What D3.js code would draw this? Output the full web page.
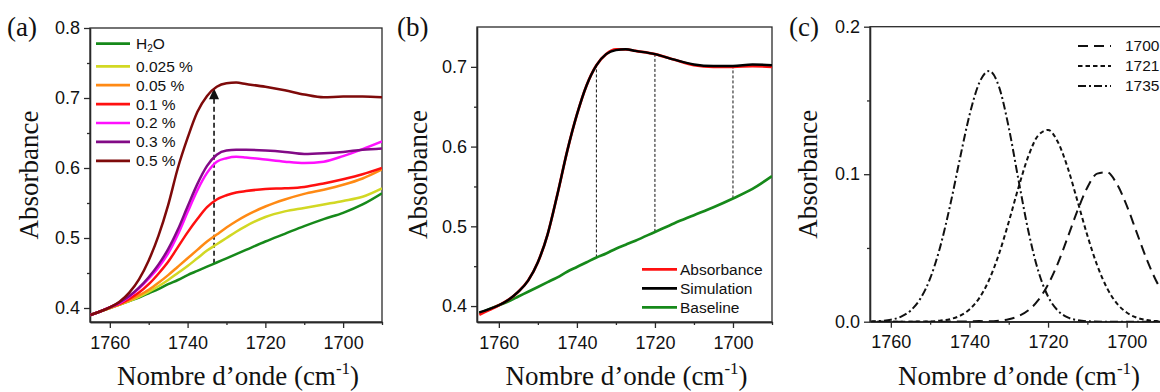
<!DOCTYPE html>
<html><head><meta charset="utf-8">
<script src="https://cdn.jsdelivr.net/npm/d3@7/dist/d3.min.js"></script>
<style>body{margin:0;background:#fff;overflow:hidden}</style>
</head><body>
<svg id="chart" width="1160" height="392"></svg>
<script>
// ---------- DATA ----------
const wavenumbers = [1765,1762.5,1760,1757.5,1755,1752.5,1750,1747.5,1745,1742.5,1740,1737.5,1735,1732.5,1730,1727.5,1725,1720,1715,1710,1705,1700,1695,1690];

// panel (a)
const seriesALabels = ["H2O","0.025 %","0.05 %","0.1 %","0.2 %","0.3 %","0.5 %"];
const aH2O  = [0.390,0.395,0.400,0.405,0.410,0.415,0.421,0.427,0.434,0.440,0.447,0.453,0.459,0.465,0.471,0.477,0.483,0.495,0.506,0.517,0.527,0.536,0.548,0.564];
const a0025 = [0.390,0.395,0.400,0.405,0.410,0.416,0.423,0.431,0.440,0.450,0.460,0.471,0.482,0.491,0.500,0.509,0.517,0.530,0.538,0.543,0.548,0.553,0.559,0.571];
const a005  = [0.390,0.395,0.400,0.405,0.411,0.418,0.426,0.436,0.447,0.459,0.471,0.483,0.495,0.505,0.515,0.524,0.532,0.545,0.555,0.563,0.569,0.576,0.585,0.598];
const a01   = [0.390,0.395,0.401,0.406,0.413,0.422,0.434,0.449,0.466,0.487,0.508,0.527,0.544,0.555,0.561,0.565,0.567,0.570,0.571,0.573,0.578,0.584,0.591,0.600];
const a02   = [0.390,0.395,0.401,0.407,0.416,0.428,0.442,0.458,0.478,0.505,0.537,0.568,0.593,0.609,0.614,0.616,0.615,0.612,0.609,0.607,0.609,0.617,0.627,0.638];
const a03   = [0.390,0.395,0.401,0.408,0.417,0.429,0.444,0.462,0.484,0.512,0.545,0.577,0.603,0.619,0.625,0.626,0.626,0.625,0.623,0.620,0.621,0.623,0.626,0.628];
const a05   = [0.390,0.395,0.401,0.409,0.422,0.441,0.468,0.503,0.547,0.600,0.643,0.680,0.703,0.716,0.721,0.722,0.720,0.716,0.711,0.705,0.701,0.702,0.702,0.701];
const arrowWavenumber = 1733.2;

// panel (b)
const seriesBLabels = ["Absorbance","Simulation","Baseline"];
const bAbsorbance = [0.389,0.395,0.401,0.408,0.418,0.432,0.455,0.490,0.540,0.594,0.640,0.677,0.702,0.716,0.722,0.722,0.720,0.716,0.709,0.702,0.700,0.700,0.701,0.700];
const bSimulation = [0.392,0.396,0.401,0.408,0.418,0.432,0.455,0.490,0.540,0.594,0.640,0.677,0.702,0.716,0.721,0.722,0.720,0.716,0.709,0.703,0.701,0.701,0.703,0.702];
const bBaseline   = [0.391,0.396,0.401,0.406,0.412,0.418,0.424,0.430,0.436,0.443,0.449,0.455,0.461,0.466,0.472,0.477,0.482,0.493,0.504,0.514,0.524,0.535,0.547,0.563];
const bMarkers = [1735, 1720, 1700];

// panel (c)
const seriesCLabels = ["1700","1721","1735"];
const c1700 = [0,0,0,0,0,0,0,0,0.0001,0.0001,0.0002,0.0004,0.0003,0.0007,0.0017,0.0038,0.0077,0.0252,0.0572,0.0910,0.1013,0.0789,0.0430,0.0164];
const c1721 = [0,0,0,0,0,0.0001,0.0002,0.0007,0.0017,0.0039,0.0083,0.0160,0.0283,0.0458,0.0676,0.0912,0.1123,0.1300,0.1044,0.0585,0.0228,0.0062,0.0012,0.0002];
const c1735 = [0.0002,0.0005,0.0013,0.0033,0.0075,0.0155,0.0293,0.0502,0.0778,0.1096,0.1399,0.1619,0.1700,0.1595,0.1317,0.0958,0.0613,0.0171,0.0029,0.0003,0,0,0,0];
// finer points between 1725 and 1690
const c1721Fine = [[1722.5,0.1263],[1717.5,0.1218],[1712.5,0.0817],[1707.5,0.0382],[1702.5,0.0124],[1697.5,0.0028],[1692.5,0.0004]];
const c1700Fine = [[1722.5,0.0146],[1717.5,0.0396],[1712.5,0.0754],[1707.5,0.1004],[1702.5,0.0934],[1697.5,0.0609],[1692.5,0.0278]];
const c1735Fine = [[1722.5,0.0345],[1717.5,0.0075],[1712.5,0.0010]];

const xMajorTicks = [1760,1740,1720,1700];
const xMinorTicks = [1750,1730,1710,1690];

// ---------- DRAW ----------
const svg = d3.select("#chart");
const SANS = "'Liberation Sans', Arial, sans-serif";
const SERIF = "'Liberation Serif', 'Times New Roman', serif";
const AX = "#2a2a2a";

function panel(o) {
  const g = svg.append("g").attr("transform", `translate(${o.left},${o.top})`);
  const x = d3.scaleLinear().domain(o.xDom).range([0, o.w]);
  const y = d3.scaleLinear().domain(o.yDom).range([o.h, 0]);
  const clipId = "clip" + o.id;
  svg.append("clipPath").attr("id", clipId).append("rect")
     .attr("x", o.left).attr("y", o.top).attr("width", o.w).attr("height", o.h);
  const styleAxis = sel => {
    sel.attr("font-family", SANS).attr("font-size", 18);
    sel.selectAll("path,line").attr("stroke", AX).attr("stroke-width", 1.3);
    sel.selectAll("text").attr("fill", "#111");
  };
  g.append("g").attr("transform", `translate(0,${o.h})`)
    .call(d3.axisBottom(x).tickValues(xMajorTicks).tickSize(6).tickSizeOuter(0).tickPadding(8).tickFormat(d3.format("d")))
    .call(styleAxis);
  g.append("g").attr("transform", `translate(0,${o.h})`)
    .call(d3.axisBottom(x).tickValues(xMinorTicks).tickSize(3).tickSizeOuter(0).tickFormat(""))
    .call(styleAxis);
  g.append("g")
    .call(d3.axisLeft(y).tickValues(o.yMajor).tickSize(6).tickSizeOuter(0).tickPadding(4).tickFormat(d3.format(".1f")))
    .call(styleAxis);
  g.append("g")
    .call(d3.axisLeft(y).tickValues(o.yMinor).tickSize(3).tickSizeOuter(0).tickFormat(""))
    .call(styleAxis);
  g.append("rect").attr("width", o.w).attr("height", o.h)
    .attr("fill", "none").attr("stroke", AX).attr("stroke-width", 1.3);
  const plot = svg.append("g").attr("clip-path", `url(#${clipId})`)
    .append("g").attr("transform", `translate(${o.left},${o.top})`);
  // titles
  const xt = g.append("text").attr("x", o.w / 2 + 2).attr("y", 385 - o.top)
    .attr("text-anchor", "middle").attr("font-family", SERIF).attr("font-size", 27).attr("fill", "#111");
  xt.append("tspan").text("Nombre d\u2019onde (cm");
  xt.append("tspan").attr("font-size", 17).attr("dy", -11).text("-1");
  xt.append("tspan").attr("dy", 11).text(")");
  svg.append("text").attr("transform", `translate(${o.titleX},${o.top + o.h / 2}) rotate(-90)`)
    .attr("text-anchor", "middle").attr("font-family", SERIF).attr("font-size", 27).attr("fill", "#111")
    .text("Absorbance");
  svg.append("text").attr("x", o.labelX).attr("y", 36)
    .attr("font-family", SERIF).attr("font-size", 27).attr("fill", "#111").text(o.label);
  return { g, plot, x, y };
}

const zip = (xs, ys) => xs.map((v, i) => [v, ys[i]]);
function interp(xs, ys, v) {
  for (let i = 0; i < xs.length - 1; i++) {
    const a = xs[i], b = xs[i + 1];
    if ((v <= a && v >= b)) return ys[i] + (ys[i + 1] - ys[i]) * (a - v) / (a - b);
  }
  return ys[ys.length - 1];
}

// ----- panel (a)
const A = panel({ id: "a", left: 90, top: 28, w: 292, h: 294, xDom: [1765.1, 1690], yDom: [0.38, 0.80],
  yMajor: [0.4, 0.5, 0.6, 0.7, 0.8], yMinor: [0.45, 0.55, 0.65, 0.75], titleX: 38, labelX: 7, label: "(a)" });
const colorsA = ["#16891a", "#d2d824", "#ff8a14", "#ff1010", "#ff10ff", "#820a86", "#7e0a0a"];
const dataA = [aH2O, a0025, a005, a01, a02, a03, a05];
const lineA = d3.line().x(d => A.x(d[0])).y(d => A.y(d[1])).curve(d3.curveMonotoneX);
// arrow (drawn below curves)
const yArrowBottom = interp(wavenumbers, aH2O, arrowWavenumber);
const yArrowTop = interp(wavenumbers, a05, arrowWavenumber);
const ax = A.x(arrowWavenumber);
A.plot.append("line").attr("x1", ax).attr("x2", ax)
  .attr("y1", A.y(yArrowBottom)).attr("y2", A.y(yArrowTop) + 9)
  .attr("stroke", "#111").attr("stroke-width", 1.6).attr("stroke-dasharray", "5,3");
const tipY = A.y(yArrowTop) - 1;
A.plot.append("path").attr("d", `M${ax},${tipY} L${ax - 5},${tipY + 11} L${ax + 5},${tipY + 11} Z`).attr("fill", "#111");
dataA.forEach((s, i) => {
  A.plot.append("path").attr("d", lineA(zip(wavenumbers, s).reverse())).attr("fill", "none")
    .attr("stroke", colorsA[i]).attr("stroke-width", 2.5);
});
// legend (a)
const legA = svg.append("g");
seriesALabels.forEach((lab, i) => {
  const yy = i === 0 ? 43.7 : 66.3 + (i - 1) * 18.9;
  legA.append("line").attr("x1", 96).attr("x2", 130).attr("y1", yy).attr("y2", yy)
    .attr("stroke", colorsA[i]).attr("stroke-width", 2.7);
  const t = legA.append("text").attr("x", 136).attr("y", yy + 5.4)
    .attr("font-family", SANS).attr("font-size", 15.5).attr("fill", "#111");
  if (lab === "H2O") {
    t.append("tspan").text("H");
    t.append("tspan").attr("font-size", 10).attr("dy", 3).text("2");
    t.append("tspan").attr("dy", -3).text("O");
  } else t.text(lab);
});

// ----- panel (b)
const B = panel({ id: "b", left: 477, top: 27, w: 295, h: 295, xDom: [1765.6, 1690], yDom: [0.38, 0.75],
  yMajor: [0.4, 0.5, 0.6, 0.7], yMinor: [0.45, 0.55, 0.65], titleX: 427, labelX: 397, label: "(b)" });
const colorsB = ["#ff1010", "#000000", "#16891a"];
const dataB = [bAbsorbance, bSimulation, bBaseline];
const lineB = d3.line().x(d => B.x(d[0])).y(d => B.y(d[1])).curve(d3.curveMonotoneX);
bMarkers.forEach(m => {
  B.plot.append("line").attr("x1", B.x(m)).attr("x2", B.x(m))
    .attr("y1", B.y(interp(wavenumbers, bBaseline, m))).attr("y2", B.y(interp(wavenumbers, bSimulation, m)))
    .attr("stroke", "#111").attr("stroke-width", 1).attr("stroke-dasharray", "3,2");
});
[2, 0, 1].forEach(i => {
  B.plot.append("path").attr("d", lineB(zip(wavenumbers, dataB[i]).reverse())).attr("fill", "none")
    .attr("stroke", colorsB[i]).attr("stroke-width", i === 1 ? 2.4 : 2.7);
});
const legB = svg.append("g");
seriesBLabels.forEach((lab, i) => {
  const yy = 269.3 + i * 19;
  legB.append("line").attr("x1", 642).attr("x2", 677).attr("y1", yy).attr("y2", yy)
    .attr("stroke", colorsB[i]).attr("stroke-width", 2.7);
  legB.append("text").attr("x", 680).attr("y", yy + 5.4)
    .attr("font-family", SANS).attr("font-size", 15.5).attr("fill", "#111").text(lab);
});

// ----- panel (c)
const C = panel({ id: "c", left: 870, top: 26.7, w: 294, h: 295, xDom: [1765.3, 1690.5], yDom: [0, 0.2],
  yMajor: [0.0, 0.1, 0.2], yMinor: [0.05, 0.15], titleX: 817, labelX: 789, label: "(c)" });
const dashC = ["10,6", "4.5,3", "8,3,2,3"];
const mergeFine = (base, fine) => zip(wavenumbers, base).concat(fine).sort((p, q) => p[0] - q[0]);
const dataC = [mergeFine(c1700, c1700Fine), mergeFine(c1721, c1721Fine), mergeFine(c1735, c1735Fine)];
const lineC = d3.line().x(d => C.x(d[0])).y(d => C.y(d[1])).curve(d3.curveMonotoneX);
dataC.forEach((s, i) => {
  C.plot.append("path").attr("d", lineC(s)).attr("fill", "none")
    .attr("stroke", "#111").attr("stroke-width", 2).attr("stroke-dasharray", dashC[i]);
});
const legC = svg.append("g");
seriesCLabels.forEach((lab, i) => {
  const yy = 46 + i * 20;
  legC.append("line").attr("x1", 1078).attr("x2", 1111).attr("y1", yy).attr("y2", yy)
    .attr("stroke", "#111").attr("stroke-width", 2).attr("stroke-dasharray", dashC[i]);
  legC.append("text").attr("x", 1125).attr("y", yy + 5.4)
    .attr("font-family", SANS).attr("font-size", 15.5).attr("fill", "#111").text(lab);
});
</script>
</body></html>
